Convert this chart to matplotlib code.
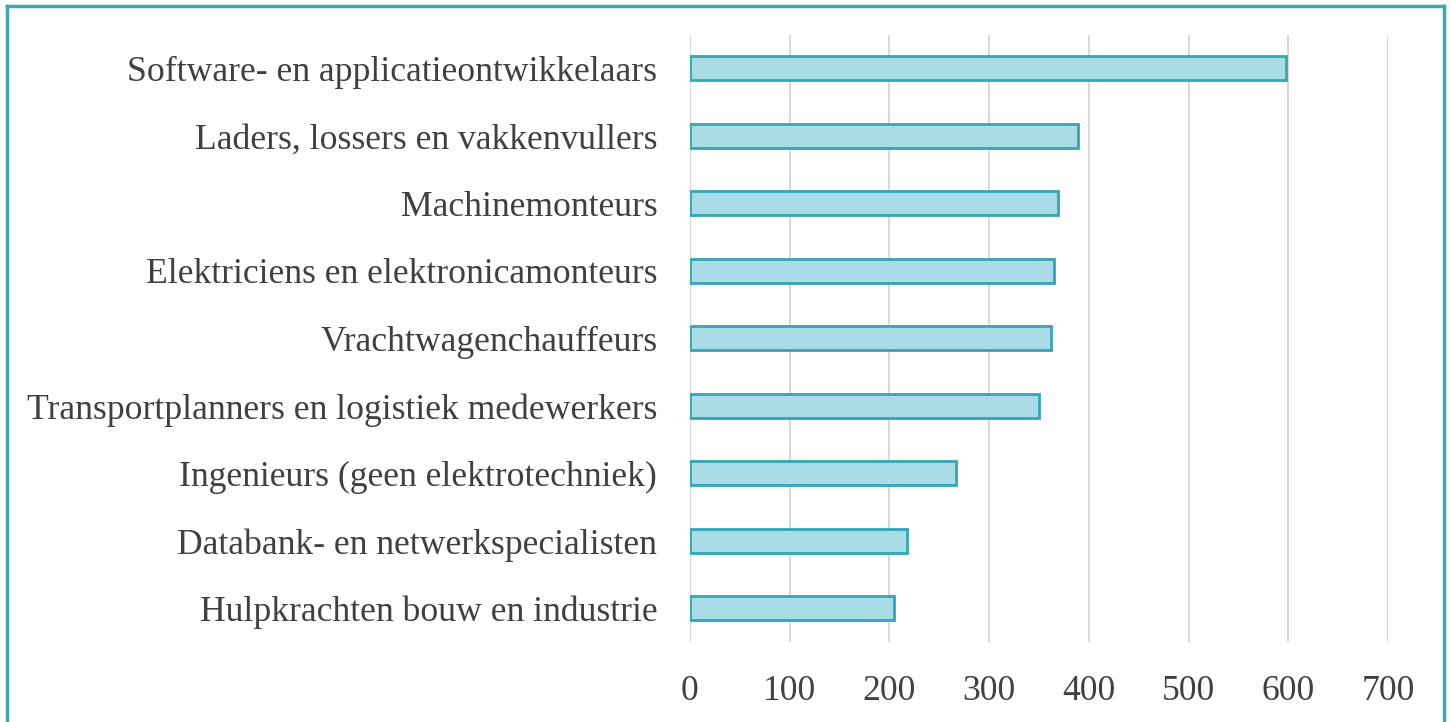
import matplotlib
matplotlib.use("Agg")
import matplotlib.pyplot as plt
from matplotlib.lines import Line2D

# Beroepen en aantallen (van boven naar beneden)
beroepen = [
    "Software- en applicatieontwikkelaars",
    "Laders, lossers en vakkenvullers",
    "Machinemonteurs",
    "Elektriciens en elektronicamonteurs",
    "Vrachtwagenchauffeurs",
    "Transportplanners en logistiek medewerkers",
    "Ingenieurs (geen elektrotechniek)",
    "Databank- en netwerkspecialisten",
    "Hulpkrachten bouw en industrie",
]
aantallen = [598, 389, 369, 365, 362, 350, 267, 218, 205]
x_ticks = [0, 100, 200, 300, 400, 500, 600, 700]

FILL = "#a8dde7"
EDGE = "#34a5b4"
FRAME = "#3aa8b6"
TEXT = "#404040"
GRID = "#d9d9d9"

plt.rcParams["font.family"] = ["Liberation Serif", "DejaVu Serif"]

fig = plt.figure(figsize=(14.51, 7.22), dpi=100)
ax = fig.add_axes([0.4755, 0.1108, 0.4811, 0.8414])

ypos = list(range(len(beroepen)))
ax.barh(ypos, aantallen, height=0.36, color=FILL, edgecolor=EDGE, linewidth=2, zorder=3)

ax.set_xlim(0, 700)
ax.set_ylim(len(beroepen) - 0.5, -0.5)
ax.set_xticks(x_ticks)
ax.set_xticklabels([str(t) for t in x_ticks])
ax.set_yticks(ypos)
ax.set_yticklabels(beroepen)

ax.grid(axis="x", color=GRID, linewidth=1.5, zorder=0)
for s in ax.spines.values():
    s.set_visible(False)
ax.tick_params(axis="both", length=0, labelsize=25.7, colors=TEXT)
ax.tick_params(axis="y", pad=23.5)
ax.tick_params(axis="x", pad=24)

# kader rond de figuur (onderkant valt weg)
fig.add_artist(Line2D([6.5 / 1451, 6.5 / 1451], [-0.1, 1 - 5.5 / 722], color=FRAME, lw=2.5,
                      transform=fig.transFigure))
fig.add_artist(Line2D([1443.5 / 1451, 1443.5 / 1451], [-0.1, 1 - 5.5 / 722], color=FRAME, lw=2.5,
                      transform=fig.transFigure))
fig.add_artist(Line2D([6.5 / 1451, 1443.5 / 1451], [1 - 5.5 / 722, 1 - 5.5 / 722], color=FRAME, lw=2.5,
                      transform=fig.transFigure))

fig.savefig("out.png", dpi=100)
